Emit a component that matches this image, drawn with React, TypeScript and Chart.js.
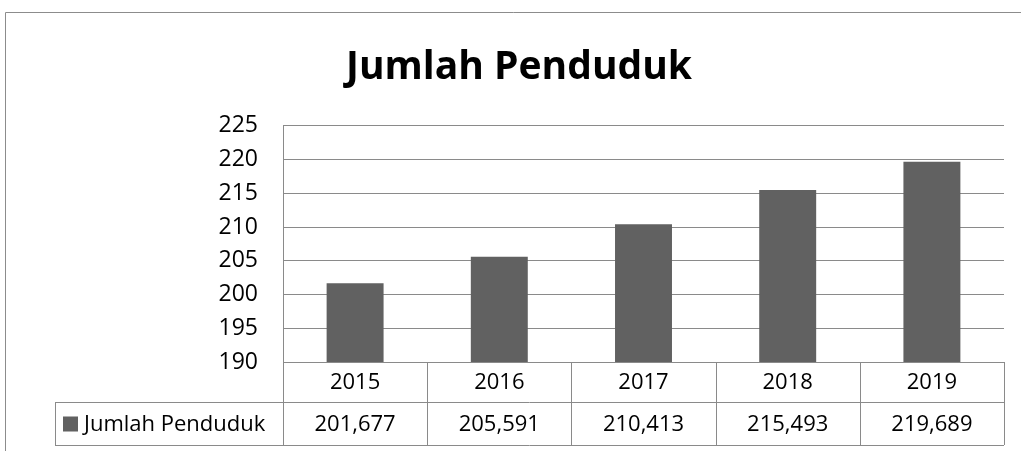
import React, { useEffect, useRef } from "react";
import { Chart, registerables } from "chart.js";

Chart.register(...registerables);

const TITLE = "Jumlah Penduduk";
const SERIES_NAME = "Jumlah Penduduk";
const YEARS = ["2015", "2016", "2017", "2018", "2019"];
const POPULATION = [201677, 205591, 210413, 215493, 219689];
const Y_MIN = 190;
const Y_MAX = 225;
const Y_STEP = 5;

const FONT = "'Open Sans', 'DejaVu Sans', sans-serif";
const BAR_COLOR = "#616161";
const LINE_COLOR = "#8a8a8a";

const tablePlugin = {
  id: "dataTable",
  beforeDraw(chart: any) {
    const ctx = chart.ctx;
    ctx.save();
    ctx.strokeStyle = "#8c8c8c";
    ctx.lineWidth = 1;
    ctx.beginPath();
    ctx.moveTo(5.5, chart.height);
    ctx.lineTo(5.5, 12.5);
    ctx.lineTo(chart.width, 12.5);
    ctx.stroke();
    ctx.restore();
  },
  afterDraw(chart: any) {
    const ctx = chart.ctx;
    const { left, right, bottom } = chart.chartArea;
    const n = YEARS.length;
    const colW = (right - left) / n;
    const row1Bottom = bottom + 40;
    const row2Bottom = row1Bottom + 43;
    const legendLeft = 55;
    const xs = chart.scales.x;
    ctx.save();
    ctx.strokeStyle = LINE_COLOR;
    ctx.lineWidth = 1;
    ctx.beginPath();
    ctx.moveTo(left, Math.round(bottom) + 0.5);
    ctx.lineTo(right, Math.round(bottom) + 0.5);
    ctx.moveTo(legendLeft, Math.round(row1Bottom) + 0.5);
    ctx.lineTo(right, Math.round(row1Bottom) + 0.5);
    ctx.moveTo(legendLeft, Math.round(row2Bottom) + 0.5);
    ctx.lineTo(right, Math.round(row2Bottom) + 0.5);
    for (let i = 0; i <= n; i++) {
      const x = Math.round(left + i * colW) + 0.5;
      ctx.moveTo(x, bottom);
      ctx.lineTo(x, row2Bottom);
    }
    ctx.moveTo(legendLeft + 0.5, row1Bottom);
    ctx.lineTo(legendLeft + 0.5, row2Bottom);
    ctx.stroke();

    ctx.fillStyle = "#000";
    ctx.font = `22px ${FONT}`;
    ctx.textAlign = "center";
    ctx.textBaseline = "middle";
    YEARS.forEach((y, i) => {
      const cx = xs.getPixelForValue(i);
      ctx.fillText(y, cx, (bottom + row1Bottom) / 2 + 1);
      ctx.fillText(
        POPULATION[i].toLocaleString("en-US"),
        cx,
        (row1Bottom + row2Bottom) / 2 + 1
      );
    });
    const midY = (row1Bottom + row2Bottom) / 2;
    ctx.fillStyle = BAR_COLOR;
    ctx.fillRect(63, midY - 7, 15, 15);
    ctx.fillStyle = "#000";
    ctx.textAlign = "left";
    ctx.fillText(SERIES_NAME, 84, midY + 1);
    ctx.restore();
  },
};

export default function App() {
  const ref = useRef<HTMLCanvasElement>(null);
  useEffect(() => {
    const chart = new Chart(ref.current!, {
      type: "bar",
      data: {
        labels: YEARS,
        datasets: [
          {
            label: SERIES_NAME,
            data: POPULATION.map((v) => v / 1000),
            backgroundColor: BAR_COLOR,
            categoryPercentage: 1,
            barPercentage: 0.395,
          },
        ],
      },
      options: {
        responsive: false,
        animation: false,
        layout: { padding: { left: 34, right: 17, top: 0, bottom: 89 } },
        plugins: {
          legend: { display: false },
          tooltip: { enabled: false },
          title: {
            display: true,
            text: TITLE,
            color: "#000",
            font: { family: FONT, size: 39, weight: "bold", lineHeight: 1.2 },
            padding: { top: 44, bottom: 35 },
          },
        },
        scales: {
          x: {
            display: false,
          },
          y: {
            min: Y_MIN,
            max: Y_MAX,
            afterFit(scale: any) {
              scale.width = 249;
            },
            ticks: {
              stepSize: Y_STEP,
              color: "#000",
              padding: 25,
              font: { family: FONT, size: 23 },
            },
            grid: { color: LINE_COLOR, drawTicks: false },
            border: { color: LINE_COLOR },
          },
        },
      },
      plugins: [tablePlugin],
    });
    return () => chart.destroy();
  }, []);
  return (
    <div style={{ position: "fixed", left: 0, top: 0, width: 1021, height: 451 }}>
      <canvas ref={ref} width={1021} height={451} />
    </div>
  );
}
